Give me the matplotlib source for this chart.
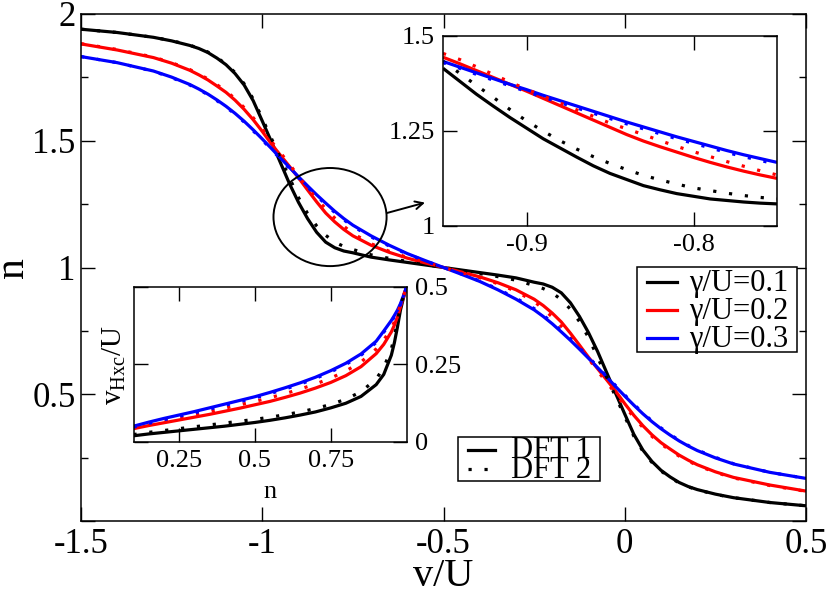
import matplotlib
matplotlib.use('Agg')
import matplotlib.pyplot as plt
from matplotlib.patches import Ellipse, Rectangle
from matplotlib.lines import Line2D

plt.rcParams['font.family'] = ['Liberation Serif', 'DejaVu Serif']
plt.rcParams['mathtext.fontset'] = 'custom'
plt.rcParams['mathtext.rm'] = 'Liberation Serif'
plt.rcParams['axes.unicode_minus'] = False

# ---- main panel: n vs v/U ----
v_main = [-1.5, -1.4, -1.3, -1.25, -1.2, -1.175, -1.15, -1.125, -1.1, -1.075, -1.05, -1.025,
          -1.0, -0.975, -0.95, -0.925, -0.9, -0.875, -0.85, -0.825, -0.8, -0.775, -0.75, -0.7,
          -0.65, -0.6, -0.55, -0.5,
          -0.45, -0.4, -0.35, -0.3, -0.25, -0.225, -0.2, -0.175, -0.15, -0.125, -0.1, -0.075,
          -0.05, -0.025, 0.0, 0.025, 0.05, 0.075, 0.1, 0.125, 0.15, 0.175, 0.2, 0.25, 0.3,
          0.4, 0.5]

n_g1_dft1 = [1.940, 1.927, 1.908, 1.894, 1.876, 1.864, 1.848, 1.826, 1.800, 1.765, 1.720, 1.658,
             1.578, 1.497, 1.414, 1.331, 1.257, 1.193, 1.139, 1.100, 1.078, 1.065, 1.058, 1.041,
             1.030, 1.020, 1.010, 1.000,
             0.990, 0.980, 0.970, 0.959, 0.942, 0.935, 0.922, 0.900, 0.861, 0.807, 0.743, 0.669,
             0.586, 0.503, 0.422, 0.342, 0.280, 0.235, 0.200, 0.174, 0.152, 0.136, 0.124, 0.106,
             0.092, 0.073, 0.060]
n_g1_dft2 = [1.940, 1.927, 1.908, 1.895, 1.877, 1.865, 1.850, 1.828, 1.803, 1.769, 1.725, 1.665,
             1.588, 1.510, 1.432, 1.354, 1.276, 1.213, 1.164, 1.127, 1.100, 1.083, 1.071, 1.050,
             1.036, 1.024, 1.012, 1.000,
             0.988, 0.976, 0.964, 0.950, 0.929, 0.917, 0.900, 0.873, 0.836, 0.787, 0.724, 0.646,
             0.568, 0.490, 0.412, 0.335, 0.275, 0.231, 0.197, 0.172, 0.150, 0.135, 0.123, 0.105,
             0.092, 0.073, 0.060]
n_g2_dft1 = [1.882, 1.858, 1.828, 1.806, 1.778, 1.760, 1.740, 1.716, 1.691, 1.660, 1.624, 1.583,
             1.537, 1.488, 1.443, 1.399, 1.354, 1.306, 1.259, 1.215, 1.180, 1.150, 1.125, 1.088,
             1.060, 1.037, 1.018, 1.000,
             0.982, 0.963, 0.940, 0.912, 0.875, 0.850, 0.820, 0.785, 0.741, 0.694, 0.646, 0.601,
             0.557, 0.512, 0.463, 0.417, 0.376, 0.340, 0.309, 0.284, 0.260, 0.240, 0.222, 0.194,
             0.172, 0.142, 0.118]
n_g2_dft2 = [1.883, 1.860, 1.830, 1.808, 1.781, 1.763, 1.744, 1.721, 1.696, 1.666, 1.631, 1.591,
             1.546, 1.498, 1.453, 1.408, 1.359, 1.314, 1.270, 1.232, 1.195, 1.163, 1.134, 1.094,
             1.064, 1.040, 1.020, 1.000,
             0.980, 0.960, 0.936, 0.906, 0.866, 0.837, 0.805, 0.768, 0.730, 0.686, 0.641, 0.592,
             0.547, 0.502, 0.454, 0.409, 0.369, 0.334, 0.304, 0.279, 0.256, 0.237, 0.219, 0.192,
             0.170, 0.140, 0.117]
n_g3_dft1 = [1.832, 1.808, 1.775, 1.751, 1.722, 1.704, 1.684, 1.661, 1.636, 1.608, 1.577, 1.543,
             1.507, 1.470, 1.432, 1.395, 1.358, 1.322, 1.287, 1.254, 1.222, 1.193, 1.167, 1.125,
             1.088, 1.055, 1.027, 1.000,
             0.973, 0.945, 0.912, 0.875, 0.833, 0.807, 0.778, 0.746, 0.713, 0.678, 0.642, 0.605,
             0.568, 0.530, 0.493, 0.457, 0.423, 0.392, 0.364, 0.339, 0.316, 0.296, 0.278, 0.249,
             0.225, 0.192, 0.168]
n_g3_dft2 = [1.832, 1.808, 1.774, 1.749, 1.720, 1.702, 1.682, 1.658, 1.633, 1.605, 1.574, 1.539,
             1.503, 1.466, 1.429, 1.391, 1.353, 1.317, 1.282, 1.249, 1.217, 1.188, 1.162, 1.121,
             1.085, 1.053, 1.026, 1.000,
             0.974, 0.947, 0.915, 0.879, 0.838, 0.812, 0.783, 0.751, 0.718, 0.683, 0.647, 0.609,
             0.571, 0.534, 0.497, 0.461, 0.426, 0.395, 0.367, 0.342, 0.318, 0.298, 0.280, 0.251,
             0.226, 0.192, 0.168]

# ---- zoom inset (upper right) ----
v_zoom = [-0.95, -0.94, -0.93, -0.92, -0.91, -0.90, -0.89, -0.88, -0.87, -0.86, -0.85,
          -0.84, -0.83, -0.82, -0.81, -0.80, -0.79, -0.78, -0.77, -0.76, -0.75]
z_g1_dft1 = [1.414, 1.380, 1.346, 1.315, 1.285, 1.257, 1.229, 1.205, 1.181, 1.158, 1.138,
             1.122, 1.106, 1.095, 1.085, 1.078, 1.071, 1.067, 1.063, 1.060, 1.058]
z_g1_dft2 = [1.432, 1.401, 1.369, 1.338, 1.306, 1.276, 1.249, 1.224, 1.202, 1.182, 1.164,
             1.148, 1.133, 1.121, 1.110, 1.100, 1.093, 1.086, 1.080, 1.075, 1.071]
z_g2_dft1 = [1.443, 1.426, 1.408, 1.390, 1.372, 1.354, 1.335, 1.316, 1.297, 1.278, 1.259,
             1.240, 1.223, 1.208, 1.194, 1.180, 1.167, 1.155, 1.144, 1.134, 1.125]
z_g2_dft2 = [1.453, 1.437, 1.418, 1.398, 1.378, 1.359, 1.341, 1.323, 1.305, 1.288, 1.270,
             1.255, 1.240, 1.224, 1.209, 1.195, 1.182, 1.169, 1.157, 1.145, 1.134]
z_g3_dft1 = [1.432, 1.417, 1.402, 1.387, 1.372, 1.358, 1.343, 1.329, 1.315, 1.301, 1.287,
             1.273, 1.260, 1.247, 1.234, 1.222, 1.210, 1.198, 1.187, 1.177, 1.167]
z_g3_dft2 = [1.429, 1.414, 1.398, 1.383, 1.368, 1.353, 1.338, 1.324, 1.310, 1.296, 1.282,
             1.268, 1.255, 1.242, 1.229, 1.217, 1.205, 1.193, 1.182, 1.172, 1.162]

# ---- vHxc inset (lower left) ----
n_hxc = [0.1, 0.15, 0.2, 0.25, 0.3, 0.35, 0.4, 0.45, 0.5, 0.55, 0.6, 0.65, 0.7, 0.75,
         0.8, 0.85, 0.9, 0.925, 0.95, 0.96, 0.97, 0.98, 0.99, 1.0]
h_g1_dft1 = [0.020, 0.026, 0.031, 0.036, 0.041, 0.046, 0.051, 0.057, 0.063, 0.070, 0.078, 0.087,
             0.097, 0.110, 0.125, 0.147, 0.185, 0.218, 0.280, 0.320, 0.370, 0.425, 0.465, 0.500]
h_g1_dft2 = [0.024, 0.031, 0.037, 0.043, 0.049, 0.055, 0.061, 0.067, 0.073, 0.080, 0.088, 0.097,
             0.108, 0.121, 0.138, 0.162, 0.203, 0.240, 0.300, 0.340, 0.388, 0.437, 0.472, 0.500]
h_g2_dft1 = [0.043, 0.053, 0.062, 0.071, 0.080, 0.089, 0.099, 0.109, 0.120, 0.131, 0.144, 0.158,
             0.174, 0.192, 0.214, 0.243, 0.285, 0.315, 0.355, 0.377, 0.403, 0.436, 0.468, 0.500]
h_g2_dft2 = [0.046, 0.058, 0.068, 0.078, 0.088, 0.098, 0.109, 0.120, 0.131, 0.143, 0.156, 0.171,
             0.187, 0.206, 0.229, 0.258, 0.300, 0.329, 0.366, 0.388, 0.412, 0.442, 0.472, 0.500]
h_g3_dft1 = [0.051, 0.064, 0.076, 0.087, 0.098, 0.110, 0.122, 0.134, 0.146, 0.160, 0.175, 0.191,
             0.209, 0.230, 0.254, 0.284, 0.325, 0.358, 0.392, 0.408, 0.425, 0.446, 0.472, 0.500]
h_g3_dft2 = [0.048, 0.060, 0.072, 0.083, 0.094, 0.106, 0.118, 0.130, 0.142, 0.156, 0.171, 0.187,
             0.205, 0.226, 0.250, 0.280, 0.321, 0.354, 0.388, 0.404, 0.421, 0.442, 0.469, 0.500]

gamma_labels = ['\u03b3/U=0.1', '\u03b3/U=0.2', '\u03b3/U=0.3']
dft_labels = ['DFT 1', 'DFT 2']
colors = ['black', 'red', 'blue']

LW = 2.3
DOT = (0, (1, 4))

W, H = 830, 593
fig = plt.figure(figsize=(W / 100, H / 100), dpi=100)


def frac(left, top, right, bottom):
    # pixel box -> figure fraction rect
    return [left / W, 1 - bottom / H, (right - left) / W, (bottom - top) / H]


def draw_pairs(ax, x, solids, dotteds):
    for y, c in zip(solids, colors):
        ax.plot(x, y, color=c, lw=LW, solid_capstyle='butt', solid_joinstyle='round')
    for y, c in zip(dotteds, colors):
        ax.plot(x, y, color=c, lw=LW, linestyle=DOT, dash_capstyle='butt')


def style_ticks(ax, size, pad):
    ax.tick_params(which='both', direction='in', top=True, right=True, width=1.0)
    ax.tick_params(which='major', length=10, labelsize=size, pad=pad)
    ax.tick_params(which='minor', length=5)
    for s in ax.spines.values():
        s.set_linewidth(1.1)


ax = fig.add_axes(frac(81, 14, 806, 521))
draw_pairs(ax, v_main, [n_g1_dft1, n_g2_dft1, n_g3_dft1], [n_g1_dft2, n_g2_dft2, n_g3_dft2])
ax.set_xlim(-1.5, 0.5)
ax.set_ylim(0, 2)
ax.set_xticks([-1.5, -1, -0.5, 0, 0.5])
ax.set_xticklabels(['-1.5', '-1', '-0.5', '0', '0.5'])
ax.set_yticks([0, 0.5, 1, 1.5, 2])
ax.set_yticklabels(['', '0.5', '1', '1.5', '2'])
ax.set_yticks([0.25, 0.75, 1.25, 1.75], minor=True)
style_ticks(ax, 25, 4)
ax.tick_params(axis='x', which='major', pad=5)
ax.set_xlabel('v/U', fontsize=29)
ax.xaxis.set_label_coords(0.5, -0.072)
ax.set_ylabel('n', fontsize=30)
ax.yaxis.set_label_coords(-0.068, 0.5)

ax.add_patch(Ellipse((-0.813, 1.199), 0.312, 0.387, fill=False, ec='black', lw=1.4, zorder=5))
ax.annotate('', xy=(-0.551, 1.256), xytext=(-0.656, 1.215),
            arrowprops=dict(arrowstyle='->', lw=1.4, color='black',
                            shrinkA=0, shrinkB=0, mutation_scale=14), zorder=5)

# upper-right zoom inset
ax1 = fig.add_axes(frac(443, 35.5, 777, 226))
draw_pairs(ax1, v_zoom, [z_g1_dft1, z_g2_dft1, z_g3_dft1], [z_g1_dft2, z_g2_dft2, z_g3_dft2])
ax1.set_xlim(-0.95, -0.75)
ax1.set_ylim(1, 1.5)
ax1.set_xticks([-0.9, -0.8])
ax1.set_xticklabels(['-0.9', '-0.8'])
ax1.set_yticks([1, 1.25, 1.5])
ax1.set_yticklabels(['1', '1.25', '1.5'])
style_ticks(ax1, 19, 6)

# lower-left vHxc inset
ax2 = fig.add_axes(frac(133.5, 287, 406.5, 442))
draw_pairs(ax2, n_hxc, [h_g1_dft1, h_g2_dft1, h_g3_dft1], [h_g1_dft2, h_g2_dft2, h_g3_dft2])
ax2.set_xlim(0.1, 1.0)
ax2.set_ylim(0, 0.5)
ax2.set_xticks([0.25, 0.5, 0.75])
ax2.set_xticklabels(['0.25', '0.5', '0.75'])
ax2.set_yticks([0, 0.25, 0.5])
ax2.set_yticklabels(['0', '0.25', '0.5'])
style_ticks(ax2, 19, 6)
ax2.tick_params(axis='y', labelleft=False, labelright=True)
ax2.set_xlabel('n', fontsize=19, labelpad=6)
ax2.set_ylabel(r'v$_{\mathrm{Hxc}}$/U', fontsize=21, labelpad=4)

# legends drawn by hand (figure pixels, y from top)
def fx(px):
    return px / W


def fy(py):
    return 1 - py / H


fig.add_artist(Rectangle((fx(637), fy(352)), (797 - 637) / W, (352 - 267) / H,
                         transform=fig.transFigure, fill=True, fc='white', ec='black', lw=1.1, zorder=10))
for row, (lab, c) in enumerate(zip(gamma_labels, colors)):
    yy = 282 + row * 28
    fig.add_artist(Line2D([fx(647), fx(677)], [fy(yy), fy(yy)], transform=fig.transFigure,
                          color=c, lw=LW, zorder=11))
    fig.text(fx(689), fy(yy + 1), lab, fontsize=22, va='center', ha='left', zorder=11)

fig.add_artist(Rectangle((fx(458), fy(481)), (600 - 458) / W, (481 - 437) / H,
                         transform=fig.transFigure, fill=True, fc='white', ec='black', lw=1.1, zorder=10))
for row, (lab, ls) in enumerate(zip(dft_labels, ['-', DOT])):
    yy = 450 + row * 19
    fig.add_artist(Line2D([fx(468), fx(495)], [fy(yy), fy(yy)], transform=fig.transFigure,
                          color='black', lw=LW, linestyle=ls, dash_capstyle='butt', zorder=11))
    fig.text(fx(511), fy(yy + 1), lab, fontsize=22, va='center', ha='left', zorder=11)

fig.savefig('out.png', dpi=100)
